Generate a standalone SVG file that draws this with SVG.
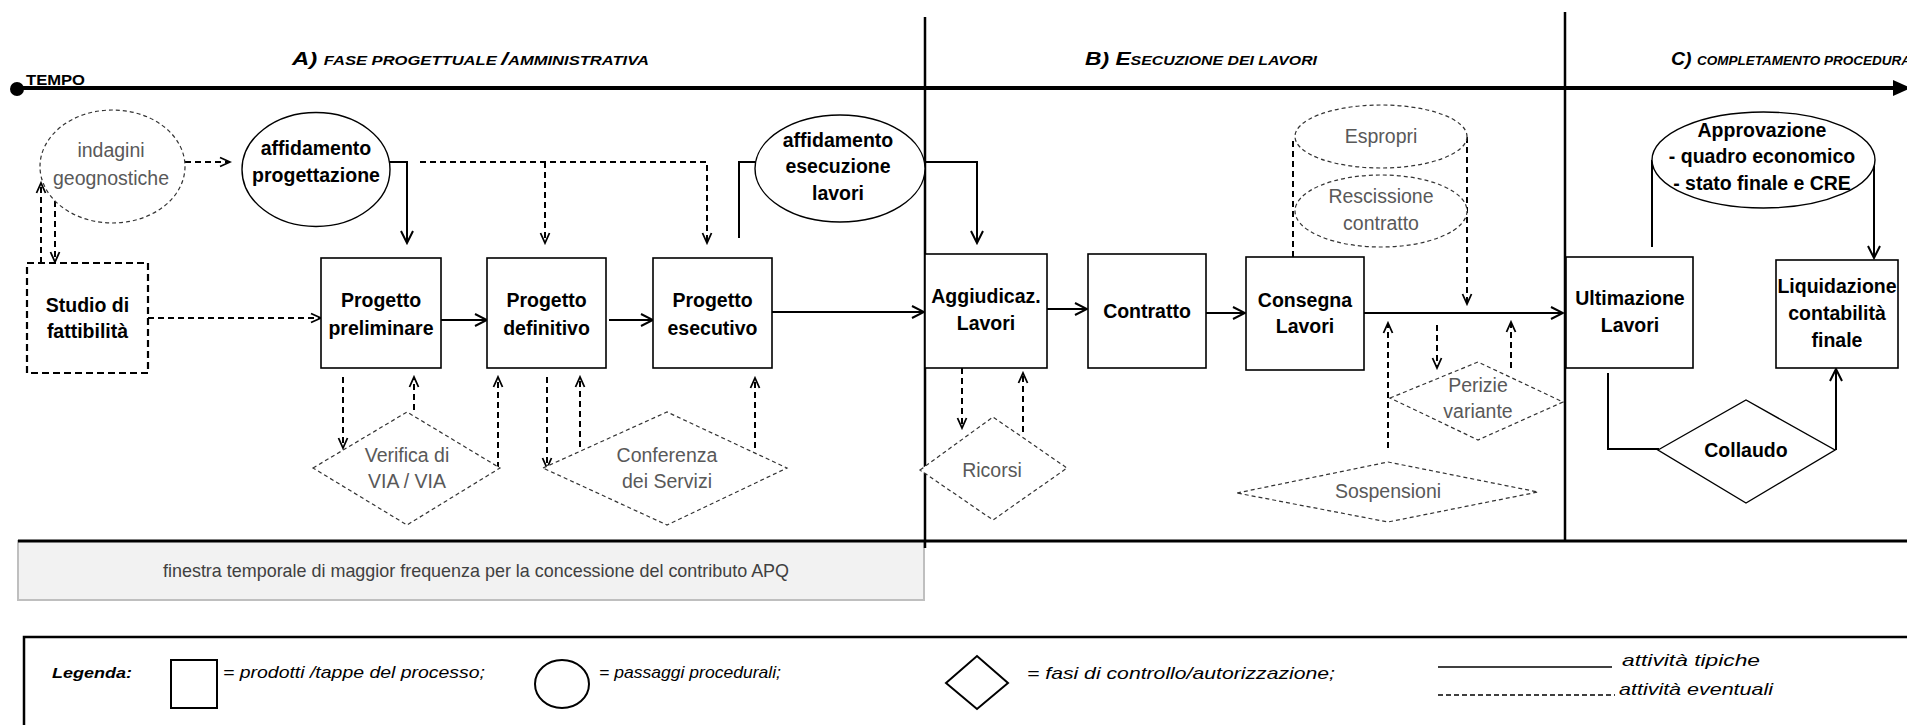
<svg xmlns="http://www.w3.org/2000/svg" width="1907" height="725" viewBox="0 0 1907 725">
<defs>
<style>
text{font-family:"Liberation Sans",Arial,sans-serif}
.lb{font-weight:bold;font-size:19.5px;fill:#000;text-anchor:middle}
.lg{font-size:19.5px;fill:#595959;text-anchor:middle}
.box{fill:#fff;stroke:#000;stroke-width:1.6}
.boxd{fill:#fff;stroke:#000;stroke-width:2.2;stroke-dasharray:7 4}
.shd{fill:#fff;stroke:#333;stroke-width:1.2;stroke-dasharray:4 3}
.sh{fill:#fff;stroke:#000;stroke-width:1.4}
.c{fill:none;stroke:#000;stroke-width:2}
.cd{fill:none;stroke:#000;stroke-width:2;stroke-dasharray:6 4}
.ph{font-style:italic;font-weight:bold;fill:#000}
.big{font-size:18px}
.sc{font-size:12.5px}
.leg{font-style:italic;font-size:17px;fill:#000}
.lgl{fill:none;stroke:#000;stroke-width:2}
</style>
<marker id="ah" markerUnits="userSpaceOnUse" markerWidth="16" markerHeight="16" viewBox="0 0 16 16" refX="14" refY="8" orient="auto">
<path d="M2,2 L14,8 L2,14" fill="none" stroke="#000" stroke-width="2"/>
</marker>
<marker id="as" markerUnits="userSpaceOnUse" markerWidth="14" markerHeight="14" viewBox="0 0 14 14" refX="12" refY="7" orient="auto">
<path d="M2,2.5 L12,7 L2,11.5" fill="none" stroke="#000" stroke-width="1.8"/>
</marker>
</defs>
<rect width="1907" height="725" fill="#fff"/>

<!-- time axis, phase dividers and headings -->
<g id="frame">
<rect x="18" y="541" width="906" height="59" fill="#f2f2f2" stroke="#bfbfbf" stroke-width="2"/>
<text x="476" y="577" font-size="18.5" fill="#404040" text-anchor="middle" textLength="626" lengthAdjust="spacingAndGlyphs">finestra temporale di maggior frequenza per la concessione del contributo APQ</text>
<line x1="18" y1="541" x2="1907" y2="541" stroke="#000" stroke-width="3"/>
<line x1="925" y1="17" x2="925" y2="548" stroke="#000" stroke-width="2.5"/>
<line x1="1565" y1="12" x2="1565" y2="541" stroke="#000" stroke-width="2.5"/>
<line x1="17" y1="88" x2="1896" y2="88" stroke="#000" stroke-width="4"/>
<circle cx="17" cy="89" r="7" fill="#000"/>
<polygon points="1893,80 1911,88 1893,96" fill="#000"/>
<text x="26" y="85" font-size="15" font-weight="bold" textLength="59" lengthAdjust="spacingAndGlyphs">TEMPO</text>
<text class="ph" x="292" y="65" textLength="357" lengthAdjust="spacingAndGlyphs"><tspan class="big">A) </tspan><tspan class="sc">FASE PROGETTUALE </tspan><tspan class="big">/</tspan><tspan class="sc">AMMINISTRATIVA</tspan></text>
<text class="ph" x="1085" y="65" textLength="232" lengthAdjust="spacingAndGlyphs"><tspan class="big">B) E</tspan><tspan class="sc">SECUZIONE DEI LAVORI</tspan></text>
<text class="ph" x="1671" y="65" textLength="240" lengthAdjust="spacingAndGlyphs"><tspan class="big">C) </tspan><tspan class="sc">COMPLETAMENTO PROCEDURA</tspan></text>
</g>

<!-- connectors: solid = typical activities, dashed = possible activities -->
<g id="connectors">
<path class="c" d="M389,162 H407 V243" marker-end="url(#ah)"/>
<path class="c" d="M441,320 H487" stroke-width="2.5" marker-end="url(#ah)"/>
<path class="c" d="M609,320 H653" stroke-width="2.5" marker-end="url(#ah)"/>
<path class="c" d="M772,312 H924" stroke-width="3" marker-end="url(#ah)"/>
<path class="c" d="M739,238 V162 H757"/>
<path class="c" d="M925,162 H977 V243" marker-end="url(#ah)"/>
<path class="c" d="M1047,309 H1087" stroke-width="1.6" marker-end="url(#ah)"/>
<path class="c" d="M1206,313 H1245" stroke-width="1.6" marker-end="url(#ah)"/>
<path class="c" d="M1364,313 H1472" stroke-width="1.8"/>
<path class="c" d="M1470,313 H1563" stroke-width="3" marker-end="url(#ah)"/>
<path class="c" d="M1652,247 V160" stroke-width="1.6"/>
<path class="c" d="M1874,160 V258" stroke-width="1.6" marker-end="url(#ah)"/>
<path class="c" d="M1608,373 V449 H1659" stroke-width="2.5"/>
<path class="c" d="M1836,450 V369" stroke-width="2.5" marker-end="url(#ah)"/>

<path class="cd" d="M185,162 H230" marker-end="url(#as)"/>
<path class="cd" d="M41,263 V183" marker-end="url(#as)"/>
<path class="cd" d="M55,201 V262" marker-end="url(#as)"/>
<path class="cd" d="M148,318 H321" marker-end="url(#as)"/>
<path class="cd" d="M420,162 H707 V243" marker-end="url(#as)"/>
<path class="cd" d="M545,162 V243" marker-end="url(#as)"/>
<path class="cd" d="M343,377 V448" marker-end="url(#as)"/>
<path class="cd" d="M414,410 V377" marker-end="url(#as)"/>
<path class="cd" d="M498,468 V377" marker-end="url(#as)"/>
<path class="cd" d="M547,377 V468" marker-end="url(#as)"/>
<path class="cd" d="M580,447 V377" marker-end="url(#as)"/>
<path class="cd" d="M755,448 V378" marker-end="url(#as)"/>
<path class="cd" d="M962,368 V428" marker-end="url(#as)"/>
<path class="cd" d="M1023,432 V373" marker-end="url(#as)"/>
<path class="cd" d="M1293,257 V137"/>
<path class="cd" d="M1467,137 V304" marker-end="url(#as)"/>
<path class="cd" d="M1388,448 V323" marker-end="url(#as)"/>
<path class="cd" d="M1437,325 V368" marker-end="url(#as)"/>
<path class="cd" d="M1511,368 V322" marker-end="url(#as)"/>
</g>

<g id="indagini">
<ellipse class="shd" cx="112.5" cy="166.5" rx="72.5" ry="56.5"/>
<text class="lg" x="111" y="157">indagini</text>
<text class="lg" x="111" y="185">geognostiche</text>
</g>
<g id="affidamento-progettazione">
<ellipse class="sh" cx="316" cy="169.5" rx="74" ry="57"/>
<text class="lb" x="316" y="155">affidamento</text>
<text class="lb" x="316" y="182">progettazione</text>
</g>
<g id="studio-fattibilita">
<rect class="boxd" x="27" y="263" width="121" height="110"/>
<text class="lb" x="87.5" y="312">Studio di</text>
<text class="lb" x="87.5" y="338">fattibilità</text>
</g>
<g id="progetto-preliminare">
<rect class="box" x="321" y="258" width="120" height="110"/>
<text class="lb" x="381" y="307">Progetto</text>
<text class="lb" x="381" y="335">preliminare</text>
</g>
<g id="progetto-definitivo">
<rect class="box" x="487" y="258" width="119" height="110"/>
<text class="lb" x="546.5" y="307">Progetto</text>
<text class="lb" x="546.5" y="335">definitivo</text>
</g>
<g id="progetto-esecutivo">
<rect class="box" x="653" y="258" width="119" height="110"/>
<text class="lb" x="712.5" y="307">Progetto</text>
<text class="lb" x="712.5" y="335">esecutivo</text>
</g>
<g id="verifica">
<polygon class="shd" points="313,468 407,412 500,468 407,525"/>
<text class="lg" x="407" y="462">Verifica di</text>
<text class="lg" x="407" y="488">VIA / VIA</text>
</g>
<g id="conferenza">
<polygon class="shd" points="543,468 667,412 787,468 667,525"/>
<text class="lg" x="667" y="462">Conferenza</text>
<text class="lg" x="667" y="488">dei Servizi</text>
</g>
<g id="affidamento-esecuzione">
<ellipse class="sh" cx="840" cy="168.5" rx="85" ry="53.5"/>
<text class="lb" x="838" y="147">affidamento</text>
<text class="lb" x="838" y="173">esecuzione</text>
<text class="lb" x="838" y="200">lavori</text>
</g>
<g id="aggiudicazione">
<rect class="box" x="925" y="254" width="122" height="114"/>
<text class="lb" x="986" y="303">Aggiudicaz.</text>
<text class="lb" x="986" y="330">Lavori</text>
</g>
<g id="ricorsi">
<polygon class="shd" points="920,470 993,417 1067,468 993,520"/>
<text class="lg" x="992" y="477">Ricorsi</text>
</g>
<g id="contratto">
<rect class="box" x="1088" y="254" width="118" height="114"/>
<text class="lb" x="1147" y="318">Contratto</text>
</g>
<g id="consegna">
<rect class="box" x="1246" y="257" width="118" height="113"/>
<text class="lb" x="1305" y="307">Consegna</text>
<text class="lb" x="1305" y="333">Lavori</text>
</g>
<g id="espropri">
<ellipse class="shd" cx="1381" cy="136.5" rx="86" ry="31.5"/>
<text class="lg" x="1381" y="143">Espropri</text>
</g>
<g id="rescissione">
<ellipse class="shd" cx="1381" cy="211" rx="86" ry="36"/>
<text class="lg" x="1381" y="203">Rescissione</text>
<text class="lg" x="1381" y="230">contratto</text>
</g>
<g id="perizie">
<polygon class="shd" points="1390,398 1478,362 1563,402 1478,440"/>
<text class="lg" x="1478" y="392">Perizie</text>
<text class="lg" x="1478" y="418">variante</text>
</g>
<g id="sospensioni">
<polygon class="shd" points="1237,493 1388,462 1538,492 1388,522"/>
<text class="lg" x="1388" y="498">Sospensioni</text>
</g>
<g id="ultimazione">
<rect class="box" x="1566" y="257" width="127" height="111"/>
<text class="lb" x="1630" y="305">Ultimazione</text>
<text class="lb" x="1630" y="332">Lavori</text>
</g>
<g id="approvazione">
<ellipse class="sh" cx="1763.5" cy="160" rx="111.5" ry="48"/>
<text class="lb" x="1762" y="137" font-size="18.5">Approvazione</text>
<text class="lb" x="1762" y="163" font-size="18.5">- quadro economico</text>
<text class="lb" x="1762" y="190" font-size="18.5">- stato finale e CRE</text>
</g>
<g id="liquidazione">
<rect class="box" x="1776" y="260" width="122" height="108"/>
<text class="lb" x="1837" y="293">Liquidazione</text>
<text class="lb" x="1837" y="320">contabilità</text>
<text class="lb" x="1837" y="347">finale</text>
</g>
<g id="collaudo">
<polygon class="sh" points="1658,450 1746,400 1835,450 1746,503"/>
<text class="lb" x="1746" y="457">Collaudo</text>
</g>

<!-- legend -->
<g id="legenda">
<rect x="24" y="637" width="1900" height="110" fill="none" stroke="#000" stroke-width="2.5"/>
<text x="52" y="678" font-size="15" font-weight="bold" font-style="italic" textLength="80" lengthAdjust="spacingAndGlyphs">Legenda:</text>
<rect class="lgl" x="171" y="660" width="46" height="48"/>
<text class="leg" x="223" y="678" textLength="262" lengthAdjust="spacingAndGlyphs">= prodotti /tappe del processo;</text>
<ellipse class="lgl" cx="562" cy="684" rx="27" ry="24"/>
<text class="leg" x="599" y="678" textLength="182" lengthAdjust="spacingAndGlyphs">= passaggi procedurali;</text>
<polygon class="lgl" points="946,683 977,656 1008,683 977,709"/>
<text class="leg" x="1027" y="679" textLength="308" lengthAdjust="spacingAndGlyphs">= fasi di controllo/autorizzazione;</text>
<line x1="1438" y1="667" x2="1612" y2="667" stroke="#000" stroke-width="1.5"/>
<text class="leg" x="1622" y="666" textLength="138" lengthAdjust="spacingAndGlyphs">attività tipiche</text>
<line x1="1438" y1="695" x2="1615" y2="695" stroke="#000" stroke-width="1.5" stroke-dasharray="5 3"/>
<text class="leg" x="1619" y="695" textLength="154" lengthAdjust="spacingAndGlyphs">attività eventuali</text>
</g>
</svg>
